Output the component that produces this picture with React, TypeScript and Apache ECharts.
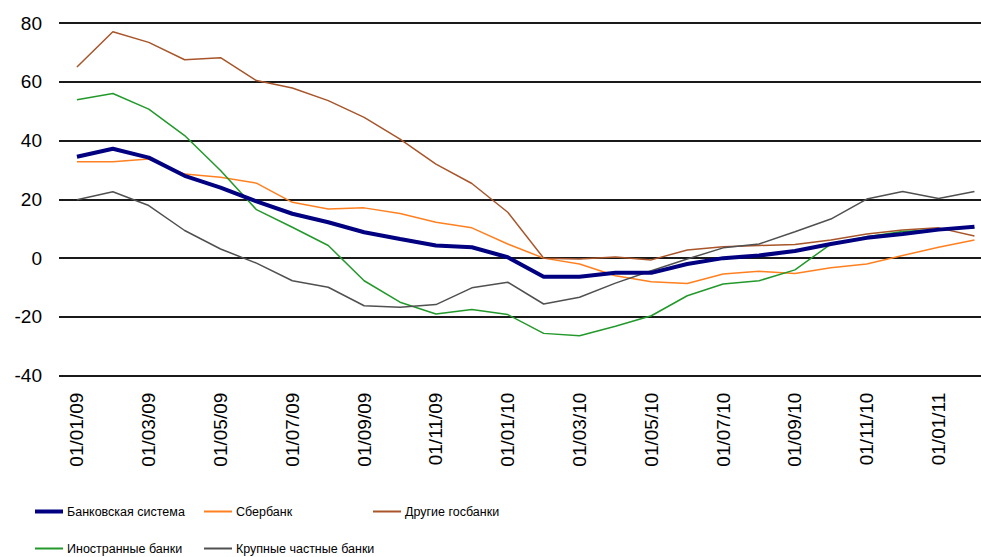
import React, { useEffect, useRef } from "react";
import * as echarts from "echarts";

const categories = [
  "01/01/09", "01/02/09", "01/03/09", "01/04/09", "01/05/09", "01/06/09",
  "01/07/09", "01/08/09", "01/09/09", "01/10/09", "01/11/09", "01/12/09",
  "01/01/10", "01/02/10", "01/03/10", "01/04/10", "01/05/10", "01/06/10",
  "01/07/10", "01/08/10", "01/09/10", "01/10/10", "01/11/10", "01/12/10",
  "01/01/11", "01/02/11",
];

const bankSystem = [34.5, 37.2, 34.2, 28, 24, 19.3, 15.1, 12.2, 8.8, 6.5, 4.3, 3.7, 0.3, -6.3, -6.3, -5, -5, -2, 0, 0.9, 2.4, 4.8, 6.9, 8.2, 9.7, 10.7];
const sberbank = [32.8, 32.8, 33.7, 28.6, 27.5, 25.5, 19, 16.7, 17.1, 15.2, 12.2, 10.3, 4.8, 0, -2, -6, -8, -8.6, -5.4, -4.5, -5.2, -3.3, -2, 0.9, 3.7, 6.2];
const otherState = [65, 77, 73.4, 67.5, 68.2, 60.4, 57.9, 53.6, 47.9, 40.5, 32, 25.4, 15.6, 0, -0.3, 0.4, -0.6, 2.8, 3.9, 4.3, 4.6, 6.2, 8.2, 9.6, 10.3, 7.5];
const foreign = [53.9, 56, 50.7, 41.7, 29.8, 16.5, 10.5, 4.3, -7.7, -15, -19, -17.5, -19.2, -25.6, -26.4, -23.2, -19.6, -12.8, -8.8, -7.7, -4, 4.8, 7.3, 9.1, 9.7, 10.3];
const largePrivate = [19.9, 22.6, 17.9, 9.4, 3.1, -1.7, -7.7, -9.9, -16.2, -16.7, -15.8, -10.1, -8.2, -15.6, -13.3, -8.5, -4.3, -0.3, 3.5, 4.8, 9, 13.3, 20.1, 22.7, 20.3, 22.7];

const seriesNames = [
  "Банковская система",
  "Сбербанк",
  "Другие госбанки",
  "Иностранные банки",
  "Крупные частные банки",
];
const seriesData = [bankSystem, sberbank, otherState, foreign, largePrivate];
const colors = ["#000080", "#FF8020", "#A8552A", "#22992A", "#505050"];
const widths = [4, 1.5, 1.5, 1.5, 1.5];

const yMin = -40;
const yMax = 80;
const yStep = 20;

const legendPos = [
  { left: 35, top: 505 },
  { left: 204, top: 505 },
  { left: 373, top: 505 },
  { left: 35, top: 542 },
  { left: 204, top: 542 },
];

export default function App() {
  const ref = useRef<HTMLDivElement>(null);

  useEffect(() => {
    if (!ref.current) return;
    const chart = echarts.init(ref.current, undefined, { renderer: "svg" });
    const legends = seriesNames.map((name, i) => ({
      data: [name],
      left: legendPos[i].left,
      top: legendPos[i].top,
      padding: 0,
      icon: "rect",
      itemWidth: 28,
      itemHeight: i === 0 ? 4 : 2,
      itemGap: 0,
      selectedMode: false,
      textStyle: {
        fontFamily: "'Liberation Sans', Arial, sans-serif",
        fontSize: 12.5,
        color: "#000",
        padding: [0, 0, 0, -1],
      },
    }));
    chart.setOption({
      animation: false,
      backgroundColor: "#fff",
      grid: {
        left: 59,
        top: 23,
        height: 352.7,
        width: 933.4,
        containLabel: false,
        outerBoundsMode: "none",
      },
      legend: legends,
      xAxis: {
        type: "category",
        data: categories,
        boundaryGap: true,
        axisLine: { show: false },
        axisTick: { show: false },
        splitLine: { show: false },
        axisLabel: {
          interval: 1,
          rotate: 90,
          margin: 17,
          color: "#000",
          fontFamily: "'Liberation Sans', Arial, sans-serif",
          fontSize: 19,
        },
      },
      yAxis: {
        type: "value",
        min: yMin,
        max: yMax,
        interval: yStep,
        axisLine: { show: false },
        axisTick: { show: false },
        axisLabel: {
          margin: 17,
          color: "#000",
          fontFamily: "'Liberation Sans', Arial, sans-serif",
          fontSize: 19,
        },
        splitLine: { show: true, lineStyle: { color: "#1a1a1a", width: 2 } },
      },
      series: seriesNames.map((name, i) => ({
        name,
        type: "line",
        data: seriesData[i],
        symbol: "none",
        z: i === 0 ? 3 : 2,
        itemStyle: { color: colors[i] },
        lineStyle: { color: colors[i], width: widths[i] },
      })),
    });
    return () => chart.dispose();
  }, []);

  return (
    <div
      ref={ref}
      style={{ position: "absolute", left: 0, top: 0, width: 981, height: 557 }}
    />
  );
}
